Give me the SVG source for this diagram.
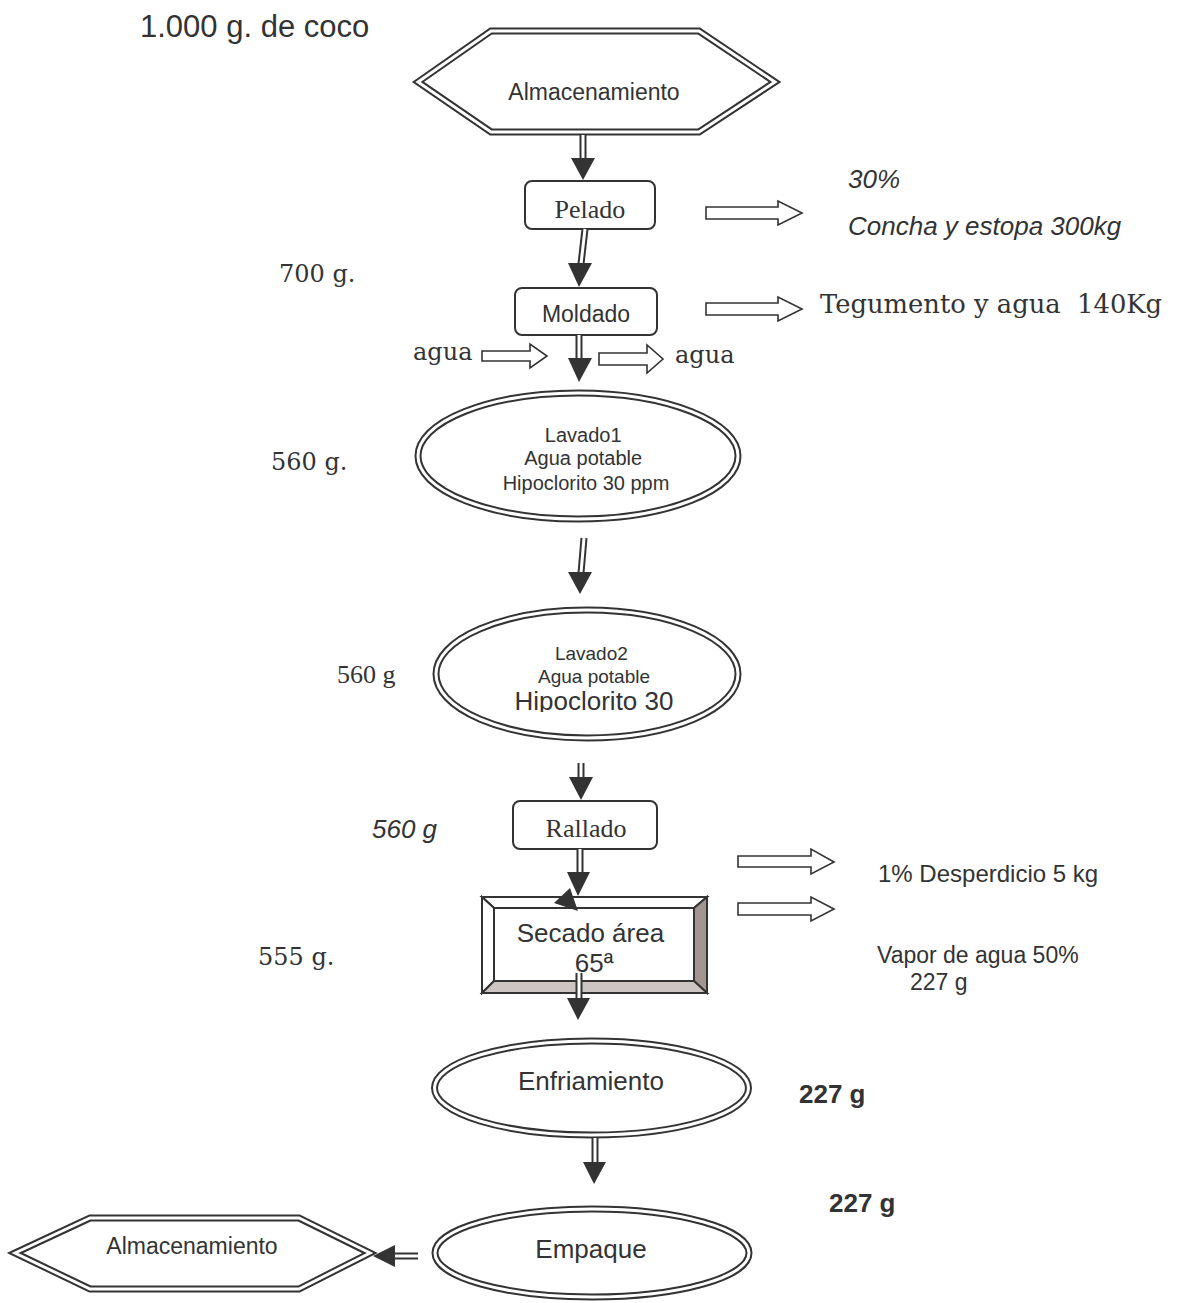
<svg xmlns="http://www.w3.org/2000/svg" width="1177" height="1303" viewBox="0 0 1177 1303">
<style>
.sans{font-family:"Liberation Sans",Arial,sans-serif;fill:#333}
.serif{font-family:"Liberation Serif","Times New Roman",serif;fill:#333}
.wserif{font-family:"DejaVu Serif",serif;fill:#333}
.dbl-o{fill:#fff;stroke:#333;stroke-width:7;stroke-linejoin:miter}
.dbl-i{fill:none;stroke:#fff;stroke-width:3;stroke-linejoin:miter}
.box{fill:#fff;stroke:#333;stroke-width:2}
.shaft-o{stroke:#333;stroke-width:7;fill:none}
.shaft-i{stroke:#fff;stroke-width:3;fill:none}
.head{fill:#333;stroke:none}
.hollow{fill:#fff;stroke:#333;stroke-width:1.6;stroke-linejoin:miter}
</style>
<defs>
<clipPath id="clipHipo"><rect x="400" y="690" width="380" height="22"/></clipPath>
</defs>
<rect width="1177" height="1303" fill="#fff"/>

<g id="title"><text class="sans" x="140" y="37" font-size="31">1.000 g. de coco</text></g>

<g id="almacenamiento-top">
<polygon class="dbl-o" points="418,82 491,31 699,31 775,82 699,132 491,132"/>
<polygon class="dbl-i" points="418,82 491,31 699,31 775,82 699,132 491,132"/>
<text class="sans" x="594" y="100" font-size="23" text-anchor="middle">Almacenamiento</text>
</g>

<g id="pelado">
<rect class="box" x="525" y="181" width="130" height="48" rx="7"/>
<text class="serif" x="590" y="218" font-size="26" text-anchor="middle">Pelado</text>
</g>

<g id="moldado">
<rect class="box" x="515" y="288" width="142" height="47" rx="7"/>
<text class="sans" x="586" y="322" font-size="23" text-anchor="middle">Moldado</text>
</g>

<g id="lavado1">
<ellipse class="dbl-o" cx="578" cy="456" rx="160" ry="63"/>
<ellipse class="dbl-i" cx="578" cy="456" rx="160" ry="63"/>
<text class="sans" font-size="20" text-anchor="middle">
<tspan x="586" y="442">Lavado1</tspan>
<tspan x="586" y="465">Agua potable</tspan>
<tspan x="586" y="490">Hipoclorito 30 ppm</tspan>
</text>
</g>

<g id="lavado2">
<ellipse class="dbl-o" cx="587" cy="674" rx="151" ry="64"/>
<ellipse class="dbl-i" cx="587" cy="674" rx="151" ry="64"/>
<text class="sans" font-size="19" text-anchor="middle">
<tspan x="594" y="660">Lavado2</tspan>
<tspan x="594" y="683">Agua potable</tspan>
</text>
<text class="sans" x="594" y="710" font-size="26" text-anchor="middle" clip-path="url(#clipHipo)">Hipoclorito 30</text>
</g>

<g id="rallado">
<rect class="box" x="513" y="801" width="144" height="48" rx="7"/>
<text class="serif" x="586" y="837" font-size="26" text-anchor="middle">Rallado</text>
</g>

<g id="secado">
<polygon points="482,897 707,897 694,908 494,908" fill="#fff" stroke="#333" stroke-width="2"/>
<polygon points="482,897 494,908 494,981 482,993" fill="#fff" stroke="#333" stroke-width="2"/>
<polygon points="707,897 707,993 694,981 694,908" fill="#a39691" stroke="#333" stroke-width="2"/>
<polygon points="482,993 494,981 694,981 707,993" fill="#cdc5c1" stroke="#333" stroke-width="2"/>
<rect x="494" y="908" width="200" height="73" fill="#fff" stroke="#333" stroke-width="2"/>
<text class="sans" font-size="26" text-anchor="middle">
<tspan x="594" y="942">Secado área</tspan>
<tspan x="594" y="972">65ª</tspan>
</text>
</g>

<g id="enfriamiento">
<ellipse class="dbl-o" cx="591.5" cy="1088" rx="157" ry="47"/>
<ellipse class="dbl-i" cx="591.5" cy="1088" rx="157" ry="47"/>
<text class="sans" x="591" y="1090" font-size="26" text-anchor="middle">Enfriamiento</text>
</g>

<g id="empaque">
<ellipse class="dbl-o" cx="592" cy="1253" rx="157" ry="44"/>
<ellipse class="dbl-i" cx="592" cy="1253" rx="157" ry="44"/>
<text class="sans" x="591" y="1258" font-size="26" text-anchor="middle">Empaque</text>
</g>

<g id="almacenamiento-bottom">
<polygon class="dbl-o" points="15,1253 90,1218 299,1218 370,1253 299,1289 90,1289"/>
<polygon class="dbl-i" points="15,1253 90,1218 299,1218 370,1253 299,1289 90,1289"/>
<text class="sans" x="192" y="1254" font-size="23" text-anchor="middle">Almacenamiento</text>
</g>

<g id="connectors">
<path class="shaft-o" d="M583,135 V159"/><path class="shaft-i" d="M583,135 V159"/>
<polygon class="head" points="571,158 595,158 583,180"/>
<path class="shaft-o" d="M585,229 L581,264"/><path class="shaft-i" d="M585,229 L581,264"/>
<polygon class="head" points="568,263 592,263 579,287"/>
<path class="shaft-o" d="M579,335 V359"/><path class="shaft-i" d="M579,335 V359"/>
<polygon class="head" points="568,358 592,358 579,382"/>
<path class="shaft-o" d="M584,538 L581,573"/><path class="shaft-i" d="M584,538 L581,573"/>
<polygon class="head" points="568,572 592,572 580,594"/>
<path class="shaft-o" d="M581,763 V778"/><path class="shaft-i" d="M581,763 V778"/>
<polygon class="head" points="569,777 593,777 581,800"/>
<path class="shaft-o" d="M580,849 V873"/><path class="shaft-i" d="M580,849 V873"/>
<polygon class="head" points="567,872 590,872 578,896"/>
<polygon class="head" points="554,903 570,888 578,911"/>
<path class="shaft-o" d="M579,973 V999"/><path class="shaft-i" d="M579,973 V999"/>
<polygon class="head" points="567,998 590,998 578,1020"/>
<path class="shaft-o" d="M595,1138 V1163"/><path class="shaft-i" d="M595,1138 V1163"/>
<polygon class="head" points="583,1162 606,1162 594,1184"/>
<path class="shaft-o" d="M418,1256 H394"/><path class="shaft-i" d="M418,1256 H394"/>
<polygon class="head" points="395,1245 395,1267 373,1256"/>

<path class="hollow" d="M706,207 H778 V201 L802,213 L778,225 V219 H706 Z"/>
<path class="hollow" d="M706,303 H778 V297 L802,309 L778,321 V315 H706 Z"/>
<path class="hollow" d="M482,351 H530 V344 L547,356 L530,368 V361 H482 Z"/>
<path class="hollow" d="M599,353 H647 V345 L663,359 L647,373 V365 H599 Z"/>
<path class="hollow" d="M738,856 H811 V849 L834,862 L811,874 V867 H738 Z"/>
<path class="hollow" d="M738,903 H811 V897 L834,909 L811,921 V915 H738 Z"/>
</g>

<g id="labels">
<text class="sans" x="848" y="188" font-size="26" font-style="italic">30%</text>
<text class="sans" x="848" y="235" font-size="26" font-style="italic">Concha y estopa 300kg</text>
<text class="wserif" x="820" y="313" font-size="25.8" style="white-space:pre">Tegumento y agua  140Kg</text>
<text class="wserif" x="279" y="282" font-size="24">700 g.</text>
<text class="wserif" x="413" y="360" font-size="24">agua</text>
<text class="wserif" x="675" y="363" font-size="24">agua</text>
<text class="wserif" x="271" y="470" font-size="24">560 g.</text>
<text class="serif" x="337" y="683" font-size="26">560 g</text>
<text class="sans" x="372" y="838" font-size="26" font-style="italic">560 g</text>
<text class="wserif" x="258" y="965" font-size="24">555 g.</text>
<text class="sans" x="878" y="882" font-size="24">1% Desperdicio 5 kg</text>
<text class="sans" x="877" y="963" font-size="23">Vapor de agua 50%</text>
<text class="sans" x="910" y="990" font-size="23">227 g</text>
<text class="sans" x="799" y="1103" font-size="26" font-weight="bold">227 g</text>
<text class="sans" x="829" y="1212" font-size="26" font-weight="bold">227 g</text>
</g>
</svg>
